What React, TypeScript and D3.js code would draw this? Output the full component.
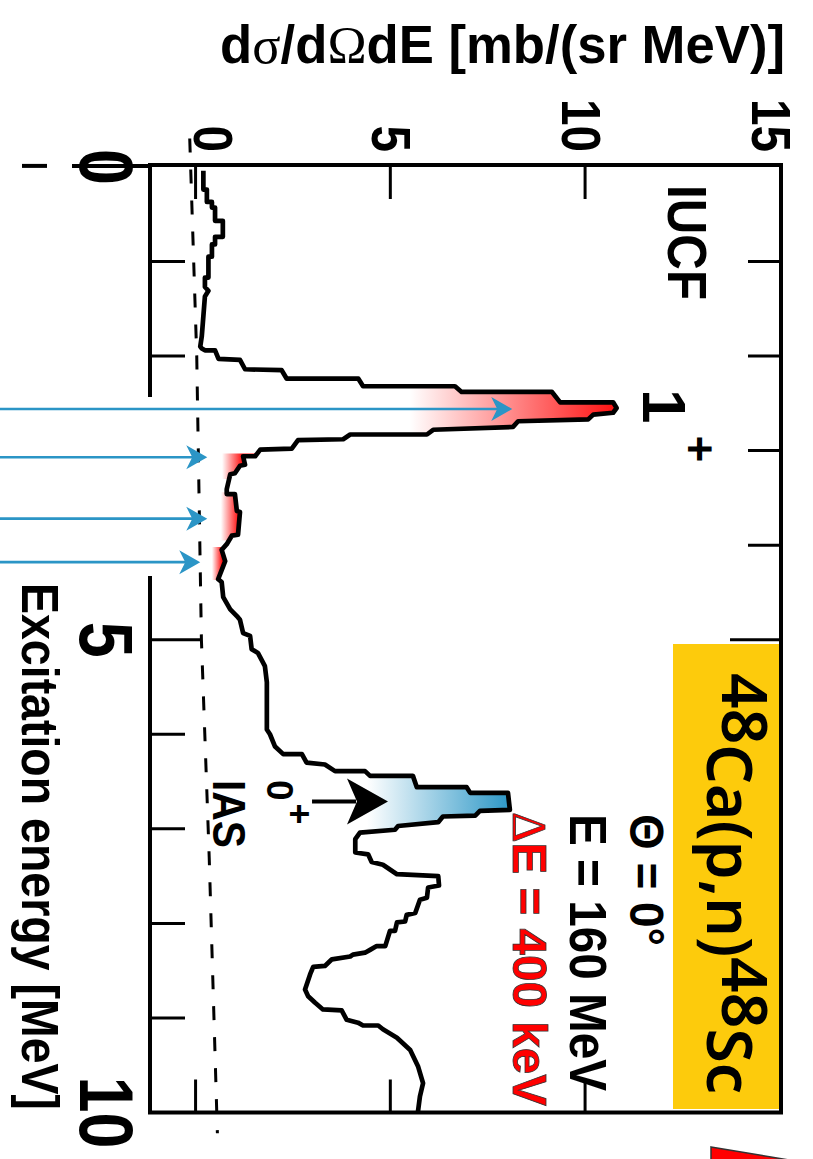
import React from "react";
import * as d3 from "d3";

// ---------- data ----------
// excitation energy [MeV] of the histogram outline vertices
const energy = [
  0.04, 0.24, 0.24, 0.37, 0.37, 0.43, 0.43, 0.57, 0.57, 0.74,
  0.74, 0.82, 0.82, 0.95, 0.95, 1.17, 1.17, 1.27, 1.31, 1.37,
  1.58, 1.79, 1.90, 1.92, 1.94, 1.94, 2.03, 2.04, 2.14, 2.15,
  2.24, 2.24, 2.32, 2.32, 2.38, 2.38, 2.49, 2.49, 2.55, 2.60,
  2.62, 2.67, 2.69, 2.75, 2.78, 2.83, 2.83, 2.88, 2.89, 2.98,
  2.99, 3.06, 3.06, 3.15, 3.16, 3.24, 3.25, 3.41, 3.46, 3.46,
  3.64, 3.65, 3.89, 3.90, 3.99, 4.05, 4.17, 4.36, 4.39, 4.55,
  4.68, 4.75, 4.79, 4.93, 4.96, 5.10, 5.14, 5.28, 5.45, 5.95,
  6.00, 6.13, 6.21, 6.21, 6.30, 6.32, 6.39, 6.39, 6.44, 6.44,
  6.56, 6.56, 6.62, 6.62, 6.80, 6.81, 6.86, 6.87, 6.93, 6.97,
  7.01, 7.04, 7.11, 7.25, 7.27, 7.35, 7.38, 7.48, 7.50, 7.60,
  7.62, 7.73, 7.75, 7.89, 7.91, 7.98, 7.99, 8.08, 8.08, 8.24,
  8.24, 8.28, 8.31, 8.33, 8.35, 8.38, 8.45, 8.46, 8.54, 8.70,
  8.77, 8.84, 8.91, 8.92, 9.02, 9.05, 9.08, 9.08, 9.12, 9.21,
  9.34, 9.51, 9.69, 9.83, 9.99,
];
// cross section dσ/dΩdE [mb/(sr MeV)]
const sigma = [
  0.20, 0.20, 0.29, 0.29, 0.42, 0.42, 0.50, 0.50, 0.70, 0.70,
  0.50, 0.50, 0.42, 0.42, 0.33, 0.33, 0.24, 0.24, 0.33, 0.24,
  0.20, 0.16, 0.12, 0.16, 0.24, 0.50, 0.59, 1.14, 1.27, 2.21,
  2.34, 4.18, 4.30, 6.66, 6.83, 9.15, 9.36, 10.72, 10.81, 10.72,
  10.21, 10.08, 8.28, 8.15, 6.10, 5.94, 3.97, 3.79, 2.63, 2.47,
  1.66, 1.53, 1.22, 1.27, 1.14, 1.01, 0.89, 0.80, 0.80, 1.01,
  1.06, 1.14, 1.09, 0.93, 0.80, 0.67, 0.76, 0.58, 0.67, 0.71,
  0.89, 1.06, 1.14, 1.22, 1.40, 1.44, 1.60, 1.78, 1.83, 1.83,
  1.91, 2.04, 2.25, 2.73, 2.85, 3.32, 3.58, 4.35, 4.48, 5.58,
  5.68, 6.96, 7.05, 8.02, 8.07, 7.30, 7.18, 6.35, 6.23, 5.20,
  5.12, 4.22, 4.10, 4.10, 4.43, 4.52, 4.81, 5.17, 6.23, 6.25,
  5.97, 5.94, 5.76, 5.64, 5.42, 5.38, 5.17, 5.12, 4.99, 4.87,
  4.65, 4.48, 4.35, 4.04, 3.97, 3.50, 3.32, 3.02, 2.94, 2.81,
  2.89, 3.07, 3.27, 3.75, 3.88, 4.17, 4.30, 4.69, 4.81, 5.17,
  5.51, 5.71, 5.84, 5.76, 5.71,
];
// dashed background line
const bgEnergy = [-0.3, 2.0, 5.0, 7.3, 10.22];
const bgSigma = [-0.15, 0.03, 0.15, 0.35, 0.56];

// blue arrows marking 1+ states
const arrowEnergy = [2.56, 3.07, 3.72, 4.18];
const arrowTip = [8.13, 0.3, 0.3, 0.12];

// highlighted regions: [E1, E2], gradient from s1 (transparent) to s2 (full colour)
const redRanges = [
  [2.235, 2.88],
  [3.03, 3.3],
  [3.44, 3.95],
  [4.02, 4.37],
];
const redGrad = [
  [5.5, 10.82],
  [0.68, 1.2],
  [0.65, 1.1],
  [0.42, 0.68],
];
const blueRange = [6.39, 7.02];
const blueGrad = [4.4, 8.12];

// IAS arrow
const iasEnergy = 6.71;
const iasFrom = 2.99;
const iasTo = 4.94;

const energyTicks = [0, 1, 2, 3, 4, 5, 6, 7, 8, 9, 10];
const energyLabels = [0, 5, 10];
const sigmaTicks = [0, 5, 10];
const sigmaLabels = [0, 5, 10, 15];

// ---------- layout ----------
const W = 813;
const H = 1159;
const SANS = '"Liberation Sans", Arial, Helvetica, sans-serif';
const SERIF = '"Liberation Serif", "Times New Roman", serif';

const yE = d3.scaleLinear().domain([-0.02, 10]).range([165, 1112.5]);
const xV = d3.scaleLinear().domain([-1.17, 15.03]).range([150, 781]);

type P = [number, number];
const pts: P[] = energy.map((e, i) => [e, sigma[i]]);
const bgPts: P[] = bgEnergy.map((e, i) => [e, bgSigma[i]]);

const line = d3
  .line<P>()
  .x((d) => xV(d[1]))
  .y((d) => yE(d[0]));
const area = d3
  .area<P>()
  .y((d) => yE(d[0]))
  .x0(xV(0))
  .x1((d) => xV(d[1]));

function head(tx: number, ty: number, L: number, w: number, n: number) {
  return `M${tx},${ty}L${tx - L},${ty - w}L${tx - L + n},${ty}L${tx - L},${ty + w}Z`;
}

function RT(props: {
  x: number;
  y: number;
  size: number;
  anchor?: string;
  fill?: string;
  weight?: string | number;
  family?: string;
  sx?: number;
  len?: number;
  stroke?: string;
  sw?: number;
  children: React.ReactNode;
}) {
  const {
    x,
    y,
    size,
    anchor = "start",
    fill = "#000",
    weight = "bold",
    family = SANS,
    sx = 1,
    len,
    stroke,
    sw,
    children,
  } = props;
  return (
    <text
      transform={`translate(${x},${y}) rotate(90) scale(${sx},1)`}
      fontSize={size}
      textAnchor={anchor as any}
      fill={fill}
      fontWeight={weight as any}
      fontFamily={family}
      stroke={stroke}
      strokeWidth={sw}
      textLength={len}
      lengthAdjust={len ? "spacingAndGlyphs" : undefined}
    >
      {children}
    </text>
  );
}

export default function App() {
  const x0 = xV.range()[0];
  const x1 = xV.range()[1];
  const y0 = yE.range()[0];
  const y1 = yE.range()[1];
  const topLabelOffset: Record<number, number> = { 0: 18, 5: 2, 10: -3, 15: -8 };
  const blue = "#2b95c6";

  return (
    <svg
      width={W}
      height={H}
      viewBox={`0 0 ${W} ${H}`}
      style={{ position: "absolute", left: 0, top: 0, background: "#fff" }}
    >
      <defs>
        {redRanges.map((r, i) => (
          <clipPath id={`cr${i}`} key={`c${i}`}>
            <rect x={0} width={W} y={yE(r[0])} height={yE(r[1]) - yE(r[0])} />
          </clipPath>
        ))}
        {redGrad.map((g, i) => (
          <linearGradient
            id={`gr${i}`}
            key={`g${i}`}
            gradientUnits="userSpaceOnUse"
            x1={xV(g[0])}
            x2={xV(g[1])}
            y1={0}
            y2={0}
          >
            <stop offset="0" stopColor="#ff1010" stopOpacity={0} />
            <stop offset="1" stopColor="#ff1010" stopOpacity={1} />
          </linearGradient>
        ))}
        <clipPath id="cb">
          <rect
            x={0}
            width={W}
            y={yE(blueRange[0])}
            height={yE(blueRange[1]) - yE(blueRange[0])}
          />
        </clipPath>
        <linearGradient
          id="gb"
          gradientUnits="userSpaceOnUse"
          x1={xV(blueGrad[0])}
          x2={xV(blueGrad[1])}
          y1={0}
          y2={0}
        >
          <stop offset="0" stopColor="#2a96c6" stopOpacity={0} />
          <stop offset="1" stopColor="#2a96c6" stopOpacity={1} />
        </linearGradient>
      </defs>

      <rect x={0} y={0} width={W} height={H} fill="#fff" />

      {/* title */}
      <text
        x={220}
        y={63}
        fontSize={53}
        fontWeight="bold"
        fontFamily={SANS}
        textLength={565}
        lengthAdjust="spacingAndGlyphs"
      >
        d
        <tspan fontFamily={SERIF} fontWeight="normal">
          σ
        </tspan>
        /d
        <tspan fontFamily={SERIF} fontWeight="normal">
          Ω
        </tspan>
        dE [mb/(sr MeV)]
      </text>

      {/* frame */}
      <rect
        x={x0}
        y={y0}
        width={x1 - x0}
        height={y1 - y0}
        fill="none"
        stroke="#000"
        strokeWidth={4}
      />
      {/* energy ticks, left & right */}
      {energyTicks.slice(1, -1).map((t) => {
        const major = t % 5 === 0;
        return (
          <g key={`et${t}`} stroke="#000" strokeWidth={3}>
            <line x1={x0} x2={x0 + (major ? 52 : 35)} y1={yE(t)} y2={yE(t)} />
            <line x1={x1} x2={x1 - (major ? 51 : 33)} y1={yE(t)} y2={yE(t)} />
          </g>
        );
      })}
      {/* sigma ticks, top & bottom */}
      {sigmaTicks.map((t) => (
        <g key={`st${t}`} stroke="#000" strokeWidth={3}>
          <line x1={xV(t)} x2={xV(t)} y1={y0} y2={y0 + 34} />
          <line x1={xV(t)} x2={xV(t)} y1={y1} y2={y1 - 33} />
        </g>
      ))}
      {/* marks at E = 0 left of the frame */}
      <line x1={22} x2={47} y1={yE(0) - 1} y2={yE(0) - 1} stroke="#000" strokeWidth={4} />
      <line x1={72} x2={x0} y1={yE(0) - 1} y2={yE(0) - 1} stroke="#000" strokeWidth={4} />

      {/* white mask over the left edge where the arrows enter */}
      <rect x={0} y={397} width={193} height={179} fill="#fff" />

      {/* coloured fills */}
      {redRanges.map((r, i) => (
        <path
          key={`f${i}`}
          d={area(pts) || ""}
          fill={`url(#gr${i})`}
          clipPath={`url(#cr${i})`}
        />
      ))}
      <path d={area(pts) || ""} fill="url(#gb)" clipPath="url(#cb)" />

      {/* dashed background */}
      <path
        d={line(bgPts) || ""}
        fill="none"
        stroke="#000"
        strokeWidth={3}
        strokeDasharray="14 17"
      />

      {/* spectrum */}
      <path
        d={line(pts) || ""}
        fill="none"
        stroke="#000"
        strokeWidth={4.7}
        strokeLinejoin="round"
      />

      {/* blue arrows */}
      {arrowEnergy.map((e, i) => {
        const tx = xV(arrowTip[i]);
        const ty = yE(e);
        return (
          <g key={`ba${i}`}>
            <line x1={0} x2={tx - 14} y1={ty} y2={ty} stroke={blue} strokeWidth={2.6} />
            <path d={head(tx, ty, 21, 12, 6)} fill={blue} />
          </g>
        );
      })}

      {/* IAS arrow */}
      <line
        x1={xV(iasFrom)}
        x2={xV(iasTo) - 32}
        y1={yE(iasEnergy)}
        y2={yE(iasEnergy)}
        stroke="#000"
        strokeWidth={4}
      />
      <path d={head(xV(iasTo), yE(iasEnergy), 41, 23, 10)} fill="#000" />

      {/* axis labels */}
      {energyLabels.map((t) => (
        <RT key={`el${t}`} x={80} y={yE(t)} size={76} anchor="middle" sx={0.85}>
          {String(t)}
        </RT>
      ))}
      {sigmaLabels.map((t) => (
        <RT
          key={`sl${t}`}
          x={xV(t) + topLabelOffset[t] - 20}
          y={152}
          size={56}
          anchor="end"
          sx={0.85}
        >
          {String(t)}
        </RT>
      ))}
      <RT x={22} y={583} size={52} len={527}>
        Excitation energy [MeV]
      </RT>

      {/* annotations */}
      <RT x={668} y={185} size={56} len={115}>
        IUCF
      </RT>
      <RT x={643} y={389} size={62}>
        1
      </RT>
      <RT x={684} y={449} size={46} anchor="middle">
        +
      </RT>

      <RT x={267} y={780} size={37}>
        0
      </RT>
      <RT x={287} y={814} size={36} anchor="middle">
        +
      </RT>
      <RT x={213} y={780} size={47} len={68}>
        IAS
      </RT>

      {/* reaction box */}
      <rect x={673} y={644} width={x1 - 673} height={1109 - 644} fill="#fdcb0c" />
      <line x1={x1} x2={x1} y1={640} y2={y1} stroke="#000" strokeWidth={4} />
      <RT x={707} y={673} size={64} weight={600} family={'"Noto Sans", "DejaVu Sans", sans-serif'} len={421}>
        <tspan dy={-15}>48</tspan>
        <tspan dy={15}>Ca(p,n)</tspan>
        <tspan dy={-15}>48</tspan>
        <tspan dy={15}>Sc</tspan>
      </RT>

      <RT x={630} y={814} size={48} len={132}>
        Θ = 0°
      </RT>
      <RT x={570} y={814} size={51} len={277}>
        E = 160 MeV
      </RT>
      <RT x={513} y={812} size={49} len={294} fill="#ff0000" stroke="#333" sw={0.8}>
        <tspan fontFamily={SERIF} fontWeight="normal">
          Δ
        </tspan>
        E = 400 keV
      </RT>

      {/* clipped red shape at the bottom edge */}
      <path d="M711,1147L795,1161L711,1161Z" fill="#ff0000" stroke="#333" strokeWidth={1.5} />
    </svg>
  );
}
